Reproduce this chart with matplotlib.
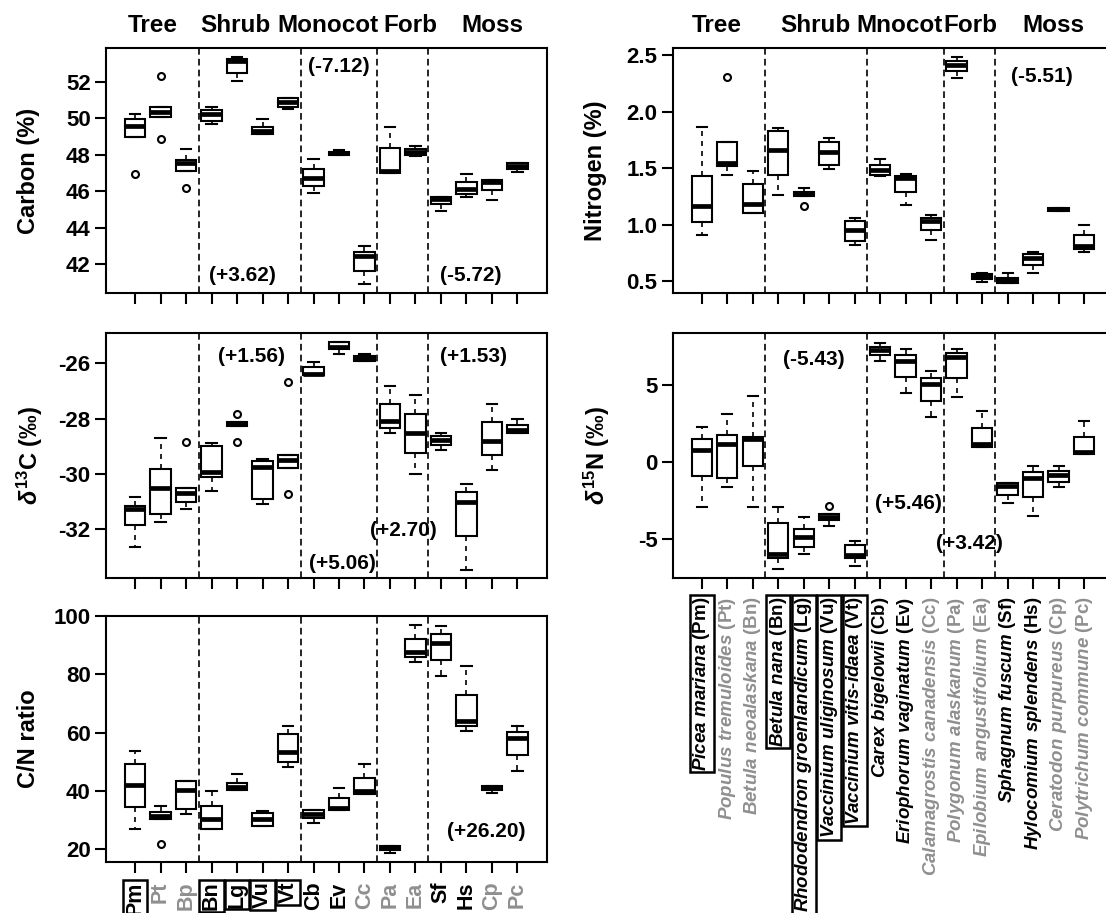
import numpy as np
import matplotlib
matplotlib.use('Agg')
import matplotlib.pyplot as plt
from matplotlib.transforms import blended_transform_factory

plt.rcParams['font.family'] = ['Liberation Sans', 'DejaVu Sans']
plt.rcParams['font.weight'] = 'bold'
plt.rcParams['axes.unicode_minus'] = False
plt.rcParams['mathtext.fontset'] = 'custom'
plt.rcParams['mathtext.rm'] = 'Liberation Sans:bold'
plt.rcParams['mathtext.bf'] = 'Liberation Sans:bold'
plt.rcParams['mathtext.it'] = 'Liberation Sans:italic:bold'

# species (x order)
abbrevs = ['Pm', 'Pt', 'Bp', 'Bn', 'Lg', 'Vu', 'Vt', 'Cb', 'Ev', 'Cc', 'Pa', 'Ea', 'Sf', 'Hs', 'Cp', 'Pc']
species = ['Picea mariana', 'Populus tremuloides', 'Betula neoalaskana', 'Betula nana',
           'Rhododendron groenlandicum', 'Vaccinium uliginosum', 'Vaccinium vitis-idaea',
           'Carex bigelowii', 'Eriophorum vaginatum', 'Calamagrostis canadensis',
           'Polygonum alaskanum', 'Epilobium angustifolium', 'Sphagnum fuscum',
           'Hylocomium splendens', 'Ceratodon purpureus', 'Polytrichum commune']
species_codes = ['Pm', 'Pt', 'Bn', 'Bn', 'Lg', 'Vu', 'Vt', 'Cb', 'Ev', 'Cc', 'Pa', 'Ea', 'Sf', 'Hs', 'Cp', 'Pc']
is_gray = [0, 1, 1, 0, 0, 0, 0, 0, 0, 1, 1, 1, 0, 0, 1, 1]
is_boxed = [1, 0, 0, 1, 1, 1, 1, 0, 0, 0, 0, 0, 0, 0, 0, 0]

groups_left = ['Tree', 'Shrub', 'Monocot', 'Forb', 'Moss']
groups_left_x = [1.70, 4.95, 8.56, 11.81, 15.0]
groups_right = ['Tree', 'Shrub', 'Mnocot', 'Forb', 'Moss']
groups_right_x = [1.58, 5.47, 8.75, 11.55, 14.8]
group_breaks = [3.5, 7.5, 10.5, 12.5]

# (whisker low, q1, median, q3, whisker high) per species
carbon = [
    (48.95, 48.95, 49.57, 49.94, 50.21),
    (50.08, 50.08, 50.36, 50.63, 50.63),
    (47.13, 47.13, 47.53, 47.71, 48.30),
    (49.68, 49.86, 50.23, 50.45, 50.63),
    (52.05, 52.49, 53.15, 53.22, 53.37),
    (49.14, 49.14, 49.32, 49.54, 49.97),
    (50.49, 50.63, 50.90, 51.09, 51.12),
    (45.89, 46.29, 46.71, 47.20, 47.75),
    (47.99, 47.99, 48.08, 48.17, 48.26),
    (40.90, 41.65, 42.46, 42.69, 43.00),
    (47.02, 47.02, 47.13, 48.35, 49.50),
    (47.95, 47.99, 48.17, 48.31, 48.50),
    (44.94, 45.30, 45.56, 45.70, 45.70),
    (45.67, 45.85, 46.10, 46.53, 46.95),
    (45.52, 46.04, 46.53, 46.62, 46.62),
    (47.07, 47.20, 47.38, 47.53, 47.53),
]
carbon_out = {0: [46.95], 1: [52.31, 48.84], 2: [46.16]}

d13c = [
    (-32.63, -31.84, -31.28, -31.16, -30.84),
    (-31.72, -31.46, -30.52, -29.81, -28.71),
    (-31.28, -31.00, -30.70, -30.52, -30.52),
    (-30.60, -30.10, -29.94, -28.99, -28.87),
    (-28.27, -28.27, -28.19, -28.14, -28.14),
    (-31.08, -30.92, -29.76, -29.55, -29.45),
    (-29.77, -29.77, -29.49, -29.31, -29.31),
    (-26.42, -26.42, -26.39, -26.14, -25.94),
    (-25.67, -25.49, -25.40, -25.25, -25.25),
    (-25.93, -25.93, -25.83, -25.73, -25.66),
    (-28.53, -28.34, -28.07, -27.47, -26.82),
    (-30.00, -29.25, -28.51, -27.83, -27.14),
    (-29.13, -28.95, -28.77, -28.63, -28.53),
    (-33.47, -32.24, -31.00, -30.67, -30.36),
    (-29.86, -29.33, -28.80, -28.14, -27.47),
    (-28.51, -28.51, -28.41, -28.23, -28.02),
]
d13c_out = {2: [-28.83], 4: [-27.84, -28.83], 6: [-26.69, -30.73]}

cn_ratio = [
    (27.1, 34.6, 42.2, 49.3, 53.9),
    (30.3, 30.3, 31.6, 32.8, 34.8),
    (32.2, 34.0, 40.5, 43.4, 43.4),
    (27.1, 27.1, 30.5, 35.0, 40.1),
    (40.5, 40.5, 41.4, 42.8, 46.0),
    (28.0, 28.2, 30.5, 32.5, 33.1),
    (48.3, 50.0, 53.3, 59.5, 62.2),
    (29.1, 30.8, 32.0, 33.4, 33.4),
    (33.4, 33.4, 34.2, 37.7, 40.9),
    (39.1, 39.1, 39.9, 44.5, 49.4),
    (18.9, 19.8, 20.5, 21.1, 21.1),
    (84.4, 86.1, 87.8, 92.0, 96.9),
    (79.5, 85.0, 90.9, 93.7, 96.6),
    (60.5, 62.2, 63.9, 73.0, 82.9),
    (39.4, 40.3, 41.1, 41.9, 41.9),
    (47.0, 52.5, 58.2, 60.1, 62.4),
]
cn_out = {1: [22.0]}

nitrogen = [
    (0.91, 1.02, 1.16, 1.43, 1.86),
    (1.44, 1.52, 1.54, 1.73, 1.73),
    (1.10, 1.10, 1.18, 1.36, 1.47),
    (1.26, 1.44, 1.66, 1.83, 1.85),
    (1.25, 1.25, 1.27, 1.29, 1.32),
    (1.49, 1.53, 1.64, 1.73, 1.77),
    (0.82, 0.85, 0.95, 1.03, 1.055),
    (1.43, 1.44, 1.48, 1.53, 1.58),
    (1.17, 1.29, 1.41, 1.43, 1.45),
    (0.86, 0.95, 1.03, 1.055, 1.08),
    (2.30, 2.36, 2.41, 2.45, 2.48),
    (0.49, 0.52, 0.54, 0.56, 0.57),
    (0.48, 0.48, 0.51, 0.53, 0.57),
    (0.57, 0.64, 0.70, 0.74, 0.76),
    (1.12, 1.12, 1.14, 1.15, 1.15),
    (0.76, 0.78, 0.81, 0.91, 1.00),
]
nitrogen_out = {1: [2.31], 4: [1.16]}

d15n = [
    (-2.93, -0.87, 0.79, 1.50, 2.26),
    (-1.59, -1.05, 1.16, 1.76, 3.12),
    (-2.93, -0.25, 1.48, 1.65, 4.29),
    (-6.94, -6.23, -5.95, -3.92, -2.93),
    (-5.95, -5.48, -4.87, -4.35, -3.53),
    (-4.11, -3.75, -3.57, -3.38, -3.38),
    (-6.73, -6.23, -6.02, -5.37, -5.09),
    (6.58, 6.94, 7.27, 7.48, 7.74),
    (4.50, 5.50, 6.58, 6.94, 7.31),
    (2.90, 3.98, 5.06, 5.48, 5.91),
    (4.20, 5.43, 6.79, 7.05, 7.31),
    (1.00, 1.00, 1.16, 2.19, 3.32),
    (-2.67, -2.13, -1.54, -1.37, -1.37),
    (-3.47, -2.28, -1.04, -0.67, -0.28),
    (-1.59, -1.26, -0.83, -0.55, -0.25),
    (0.53, 0.53, 0.64, 1.65, 2.67),
]
d15n_out = {5: [-2.84]}

# difference labels (x, y, text)
carbon_notes = [(9.01, 52.82, '(-7.12)'), (5.23, 41.36, '(+3.62)'), (14.16, 41.36, '(-5.72)')]
d13c_notes = [(5.58, -25.76, '(+1.56)'), (14.26, -25.76, '(+1.53)'),
              (11.53, -32.03, '(+2.70)'), (9.12, -33.23, '(+5.06)')]
cn_notes = [(14.78, 26.26, '(+26.20)')]
nitrogen_notes = [(14.34, 2.314, '(-5.51)')]
d15n_notes = [(5.40, 6.62, '(-5.43)'), (9.09, -2.67, '(+5.46)'), (11.52, -5.26, '(+3.42)')]

GRAY = '#8f8f8f'
pos = np.arange(1, len(abbrevs) + 1)

W, H = 1106, 913
fig = plt.figure(figsize=(W / 100, H / 100), dpi=100)


def add_ax(x0, top, bottom):
    return fig.add_axes([x0 / W, 1 - bottom / H, 440.5 / W, (bottom - top) / H])


def draw_panel(ax, table, outliers, ylim, yticks, ylabel, notes, fmt='%g', labx=-0.18):
    stats = []
    for i, (lo, q1, med, q3, hi) in enumerate(table):
        stats.append(dict(whislo=lo, q1=q1, med=med, q3=q3, whishi=hi,
                          fliers=outliers.get(i, [])))
    ax.bxp(stats, positions=pos, widths=0.8, capwidths=0.4, patch_artist=True,
           boxprops=dict(facecolor='white', edgecolor='black', linewidth=1.5),
           medianprops=dict(color='black', linewidth=3.4, solid_capstyle='butt'),
           whiskerprops=dict(color='black', linewidth=1.2, linestyle=(0, (3, 3))),
           capprops=dict(color='black', linewidth=1.5),
           flierprops=dict(marker='o', markerfacecolor='none', markeredgecolor='black',
                           markersize=5, markeredgewidth=1.5))
    for b in group_breaks:
        ax.axvline(b, color='black', lw=1.2, ls=(0, (4, 2.5)), zorder=0.5)
    for x, y, t in notes:
        ax.text(x, y, t, ha='center', va='center', fontsize=15, fontweight='bold')
    ax.set_xlim(-0.14, 17.14)
    ax.set_ylim(*ylim)
    ax.set_yticks(yticks)
    ax.set_yticklabels([fmt % v for v in yticks])
    ax.set_xticks(pos)
    ax.set_xticklabels([])
    ax.tick_params(direction='out', length=8, width=1.5, labelsize=16, pad=3)
    for s in ax.spines.values():
        s.set_linewidth(1.5)
    ax.set_ylabel(ylabel, fontsize=17, fontweight='bold', va='center')
    ax.yaxis.set_label_coords(labx, 0.5)


LX, RX = 106, 672.7
ax_c = add_ax(LX, 47.7, 293.3)
ax_d13 = add_ax(LX, 333.3, 578.3)
ax_cn = add_ax(LX, 616, 862)
ax_n = add_ax(RX, 47.7, 293.3)
ax_d15 = add_ax(RX, 333.3, 578.3)

draw_panel(ax_c, carbon, carbon_out, (40.41, 53.86), [42, 44, 46, 48, 50, 52],
           'Carbon (%)', carbon_notes, labx=-0.175)
draw_panel(ax_d13, d13c, d13c_out, (-33.77, -24.92), [-32, -30, -28, -26],
           r'$\delta^{13}$C (‰)', d13c_notes, labx=-0.172)
draw_panel(ax_cn, cn_ratio, cn_out, (15.7, 100.0), [20, 40, 60, 80, 100],
           'C/N ratio', cn_notes, labx=-0.175)
draw_panel(ax_n, nitrogen, nitrogen_out, (0.391, 2.565), [0.5, 1.0, 1.5, 2.0, 2.5],
           'Nitrogen (%)', nitrogen_notes, fmt='%.1f', labx=-0.176)
draw_panel(ax_d15, d15n, d15n_out, (-7.53, 8.35), [-5, 0, 5],
           r'$\delta^{15}$N (‰)', d15n_notes, labx=-0.172)

# group headers
for ax, names, xs in [(ax_c, groups_left, groups_left_x), (ax_n, groups_right, groups_right_x)]:
    tr = blended_transform_factory(ax.transData, ax.transAxes)
    for name, x in zip(names, xs):
        ax.text(x, 1.092, name, transform=tr, ha='center', va='center',
                fontsize=17.5, fontweight='bold')

# bottom-left abbreviations
ax_cn.set_xticklabels(abbrevs, rotation=90, fontsize=15.5, fontweight='bold')
ax_cn.tick_params(axis='x', pad=6)
for lab, g, bx in zip(ax_cn.get_xticklabels(), is_gray, is_boxed):
    lab.set_color(GRAY if g else 'black')
    if bx:
        lab.set_bbox(dict(boxstyle='square,pad=0.08', fc='white', ec='black', lw=1.8))


def italic_label(name, code):
    parts = name.split('-')
    it = '-'.join('$\\mathit{' + p.replace(' ', '\\ ') + '}$' for p in parts)
    return it + ' (' + code + ')'


long_labels = [italic_label(s, c) for s, c in zip(species, species_codes)]
ax_d15.set_xticklabels(long_labels, rotation=90, fontsize=13.5, fontweight='bold')
ax_d15.tick_params(axis='x', pad=5)
for lab, g, bx in zip(ax_d15.get_xticklabels(), is_gray, is_boxed):
    lab.set_color(GRAY if g else 'black')
    if bx:
        lab.set_bbox(dict(boxstyle='square,pad=0.08', fc='white', ec='black', lw=1.8))

fig.savefig('out.png', dpi=100)
